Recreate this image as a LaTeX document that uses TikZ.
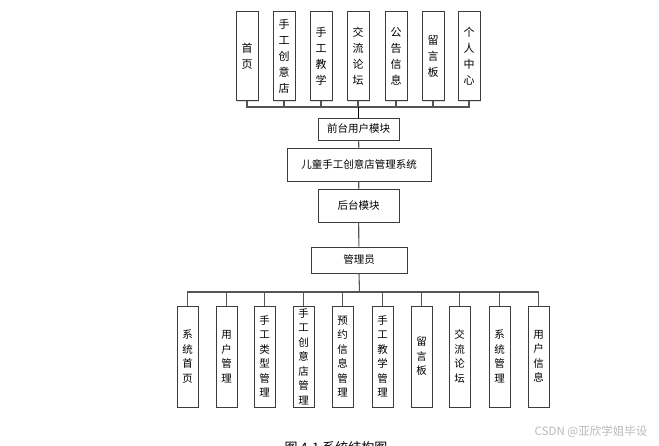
\documentclass[tikz,border=0pt]{standalone}
\usepackage{fontspec}
\newfontfamily\cjk{Noto Sans CJK SC}
\usepackage{tikz}
\usetikzlibrary{positioning,shadows}
\definecolor{boxline}{RGB}{60,60,60}
\definecolor{linkgrey}{RGB}{85,85,85}
\definecolor{markgrey}{RGB}{185,185,185}

\begin{document}
\begin{tikzpicture}[x=1pt, y=-1pt,
    mod/.style={rectangle, draw=boxline, fill=white, line width=0.9pt, inner sep=0pt,
                drop shadow={shadow xshift=1pt, shadow yshift=-1pt, opacity=0.25},
                align=center},
    topmod/.style={mod, minimum width=22pt, minimum height=89pt,
                   font=\cjk\fontsize{11}{16}\selectfont},
    botmod/.style={mod, minimum width=21pt, minimum height=101pt,
                   font=\cjk\fontsize{10.5}{14.5}\selectfont},
    midmod/.style={mod, font=\cjk\fontsize{10.5}{13}\selectfont},
    link/.style={draw=linkgrey, line width=1.1pt}
]
\useasboundingbox (0,0) rectangle (659,445);

% front-end pages
\node[topmod] (home)  at (247,56) {首\\页};
\node[topmod] (shop)  at (284,56) {手\\工\\创\\意\\店};
\node[topmod] (teach) at (321,56) {手\\工\\教\\学};
\node[topmod] (forum) at (358,56) {交\\流\\论\\坛};
\node[topmod] (news)  at (396,56) {公\\告\\信\\息};
\node[topmod] (board) at (433,56) {留\\言\\板};
\node[topmod] (me)    at (469,56) {个\\人\\中\\心};

% middle column
\node[midmod, minimum width=81pt, minimum height=22pt] (front) at (358.5,129) {前台用户模块};
\node[midmod, minimum width=144pt, minimum height=33pt] (sys) at (359,164.5) {儿童手工创意店管理系统};
\node[midmod, minimum width=81pt, minimum height=33pt] (back) at (358.5,205.5) {后台模块};
\node[midmod, minimum width=96pt, minimum height=26pt] (admin) at (359,260) {管理员};

% back-end pages
\node[botmod] (a1)  at (187.5,356.5) {系\\统\\首\\页};
\node[botmod] (a2)  at (226.5,356.5) {用\\户\\管\\理};
\node[botmod] (a3)  at (264.5,356.5) {手\\工\\类\\型\\管\\理};
\node[botmod] (a4)  at (303.5,356.5) {手\\工\\创\\意\\店\\管\\理};
\node[botmod] (a5)  at (342.5,356.5) {预\\约\\信\\息\\管\\理};
\node[botmod] (a6)  at (382.5,356.5) {手\\工\\教\\学\\管\\理};
\node[botmod] (a7)  at (421.5,356.5) {留\\言\\板};
\node[botmod] (a8)  at (459.5,356.5) {交\\流\\论\\坛};
\node[botmod] (a9)  at (499.5,356.5) {系\\统\\管\\理};
\node[botmod] (a10) at (538.5,356.5) {用\\户\\信\\息};

\coordinate (topbus) at (358.5,107);
\coordinate (botbus) at (359.5,292);

% connectors
\foreach \n in {home,shop,teach,forum,news,board,me}
  \draw[link] (\n.south) |- (topbus);
\draw[link, line width=1.6pt, black] (topbus) -- (front.north);
\draw[link] (front) -- (sys);
\draw[link] (sys) -- (back);
\draw[link] (back) -- (admin);
\draw[link] (admin.south) -- (botbus);
\foreach \n in {a1,a2,a3,a4,a5,a6,a7,a8,a9,a10}
  \draw[link] (\n.north) |- (botbus);

% caption and mark
\node[font=\cjk\fontsize{13}{15}\selectfont, anchor=north west] (cap) at (281,438) {图 4-1 系统结构图};
\node[font=\cjk\fontsize{11.5}{13}\selectfont, text=markgrey] (mark) at (591,432) {CSDN @亚欣学姐毕设};
\end{tikzpicture}
\end{document}
